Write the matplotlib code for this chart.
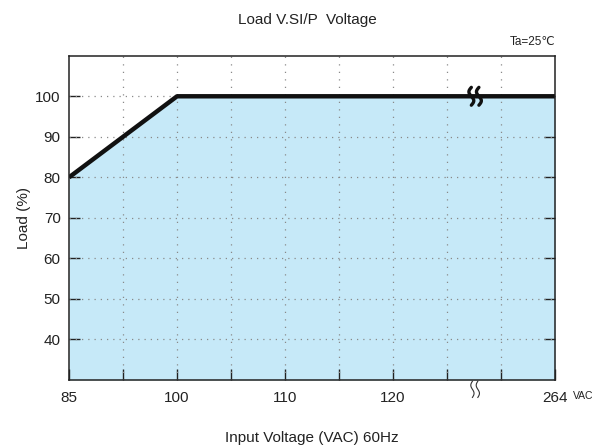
import numpy as np
import matplotlib
matplotlib.use("Agg")
import matplotlib.pyplot as plt

plt.rcParams['font.family'] = ['Liberation Sans', 'DejaVu Sans']

# derating curve: input voltage (VAC) vs load (%)
voltage = [85, 100, 264]
load = [80, 100, 100]

# x axis is drawn as a schematic: tick voltages sit on evenly spaced grid slots
tick_volts = [85, 100, 110, 120, 264]
tick_slots = [0, 2, 4, 6, 9]
y_ticks = [40, 50, 60, 70, 80, 90, 100]

def to_slot(v):
    return np.interp(v, tick_volts, tick_slots)

fig = plt.figure(figsize=(5.93, 4.46), dpi=100)
ax = fig.add_axes([0.1164, 0.148, 0.8196, 0.727])

xs = to_slot(voltage)
ax.fill_between(xs, load, 30, color='#c6e9f8', lw=0, zorder=1)
ax.plot(xs, load, color='#111111', lw=3.2, solid_capstyle='butt', zorder=4)

ax.set_xlim(0, 9)
ax.set_ylim(30, 110)

# dotted grid
for s in range(1, 9):
    ax.axvline(s, color='#8a8a8a', lw=0.9, ls=(0, (1, 5)), zorder=2)
for y in y_ticks:
    ax.axhline(y, color='#8a8a8a', lw=0.9, ls=(0, (1, 4)), zorder=2)

ax.set_xticks(range(0, 10))
ax.set_xticklabels(['85', '', '100', '', '110', '', '120', '', '', '264'])
ax.set_yticks(y_ticks)
ax.tick_params(axis='x', direction='in', length=8, width=1, pad=8, labelsize=11, colors='#222222')
ax.tick_params(axis='y', direction='in', length=8, width=1, pad=6, labelsize=11,
               right=True, colors='#222222')
for sp in ax.spines.values():
    sp.set_linewidth(1.1)
    sp.set_color('#222222')
    sp.set_zorder(5)

# break marks on the curve and below the x axis
t = np.linspace(-1, 1, 40)
bx = 7.52
for dx in (-0.07, 0.07):
    ax.plot(bx + dx - 0.045 * np.sin(t * np.pi), 100 + 2.2 * t,
            color='#111111', lw=2.4, zorder=6, solid_capstyle='round', clip_on=False)
for dx in (-0.05, 0.05):
    ax.plot(bx + dx - 0.03 * np.sin(t * np.pi), 27.7 + 2.0 * t,
            color='#333333', lw=0.8, zorder=6, clip_on=False)

ax.text(1.0, 1.025, 'Ta=25\u2103', transform=ax.transAxes, ha='right', va='bottom',
        fontsize=8.5, color='#222222')
ax.text(9.34, -0.05, 'VAC', transform=ax.get_xaxis_transform(), fontsize=7.5,
        ha='left', va='center', color='#222222')

fig.text(0.518, 0.955, 'Load V.SI/P  Voltage', ha='center', va='center', fontsize=11, color='#222222')
ax.set_xlabel('Input Voltage (VAC) 60Hz', fontsize=11, color='#222222', labelpad=19)
ax.set_ylabel('Load (%)', fontsize=11, color='#222222', labelpad=3)

fig.savefig('out.png', dpi=100)
